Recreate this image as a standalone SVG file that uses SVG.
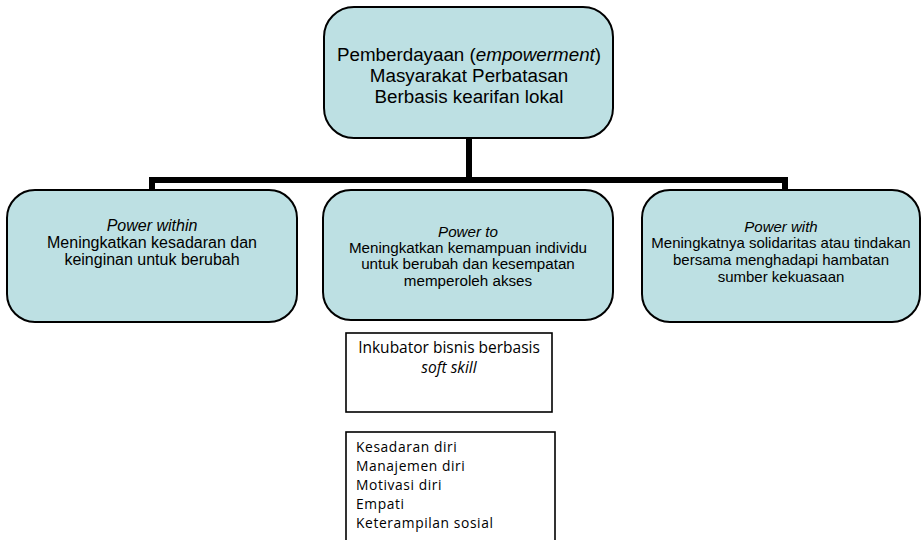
<svg xmlns="http://www.w3.org/2000/svg" width="923" height="540" viewBox="0 0 923 540">
<style>
.node{fill:#bde0e3;stroke:#000;stroke-width:2}
.box{fill:#fff;stroke:#000;stroke-width:1.6}
.t{font-family:"Liberation Sans",Arial,sans-serif;fill:#000;text-anchor:middle}
.c{font-family:"Open Sans","Liberation Sans",sans-serif;fill:#000}
.conn{fill:none;stroke:#000;stroke-width:6}
</style>
<rect width="923" height="540" fill="#fff"/>
<g id="connectors">
<path class="conn" d="M469 138V180"/>
<path class="conn" d="M149 180H788"/>
<path class="conn" d="M152 177V191"/>
<path class="conn" d="M785 177V191"/>
</g>
<g id="top">
<rect class="node" x="324" y="7" width="289" height="131" rx="30"/>
<text class="t" font-size="18.8"><tspan x="469" y="61">Pemberdayaan (<tspan font-style="italic">empowerment</tspan>)</tspan><tspan x="469" y="82">Masyarakat Perbatasan</tspan><tspan x="469" y="103">Berbasis kearifan lokal</tspan></text>
</g>
<g id="power-within">
<rect class="node" x="7" y="190" width="290" height="132" rx="28"/>
<text class="t" font-size="16"><tspan x="152" y="231" font-style="italic">Power within</tspan><tspan x="152" y="248">Meningkatkan  kesadaran dan</tspan><tspan x="152" y="265">keinginan untuk berubah</tspan></text>
</g>
<g id="power-to">
<rect class="node" x="323" y="190" width="290" height="130" rx="28"/>
<text class="t" font-size="15.2"><tspan x="468" y="237" font-style="italic">Power to</tspan><tspan x="468" y="253">Meningkatkan kemampuan individu</tspan><tspan x="468" y="269">untuk berubah dan kesempatan</tspan><tspan x="468" y="286">memperoleh akses</tspan></text>
</g>
<g id="power-with">
<rect class="node" x="642" y="190" width="278" height="132" rx="28"/>
<text class="t" font-size="15"><tspan x="781" y="232" font-style="italic">Power with</tspan><tspan x="781" y="248">Meningkatnya solidaritas atau tindakan</tspan><tspan x="781" y="265">bersama menghadapi hambatan</tspan><tspan x="781" y="282">sumber kekuasaan</tspan></text>
</g>
<g id="inkubator">
<rect class="box" x="346" y="333" width="206" height="79"/>
<text class="c" font-size="15.5" text-anchor="middle"><tspan x="449" y="353">Inkubator bisnis berbasis</tspan><tspan x="449" y="373" font-style="italic">soft skill</tspan></text>
</g>
<g id="soft-skill-list">
<rect class="box" x="346" y="432" width="209" height="112"/>
<text class="c" font-size="13.8" letter-spacing="0.6"><tspan x="356" y="452">Kesadaran diri</tspan><tspan x="356" y="471">Manajemen diri</tspan><tspan x="356" y="490">Motivasi diri</tspan><tspan x="356" y="509">Empati</tspan><tspan x="356" y="528">Keterampilan sosial</tspan></text>
</g>
</svg>
